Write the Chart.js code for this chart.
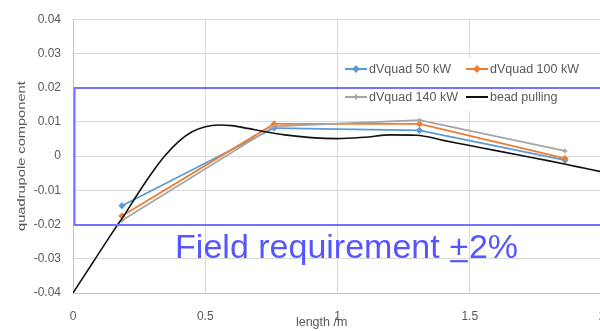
<!DOCTYPE html>
<html>
<head>
<meta charset="utf-8">
<script src="https://cdn.jsdelivr.net/npm/chart.js@4/dist/chart.umd.min.js"></script>
<style>
  html, body { margin: 0; padding: 0; background: #fff; overflow: hidden; width: 600px; height: 331px; }
  #wrap { position: absolute; left: 0; top: 0; width: 606px; height: 331px; }
</style>
</head>
<body>
<div id="wrap"><canvas id="c" width="606" height="331"></canvas></div>
<script>
// Longitudinal positions of the simulated quadrupole samples (m)
const positions = [0.185, 0.76, 1.31, 1.86];
// Simulated quadrupole component at three RF power levels
const dv50  = [-0.0145, 0.0082, 0.0075, -0.0012];
const dv100 = [-0.0175, 0.0094, 0.0094, -0.0007];
const dv140 = [-0.0188, 0.0087, 0.0105, 0.0015];
// Bead-pulling measurement
const beadX = [0, 0.08, 0.15, 0.2, 0.25, 0.3, 0.35, 0.4, 0.45, 0.5, 0.55, 0.6, 0.66, 0.72, 0.8, 0.9, 1.0, 1.1, 1.2, 1.3, 1.4, 1.5, 1.6, 1.7, 1.8, 1.9, 2.0];
const beadY = [-0.04, -0.0305, -0.0222, -0.0165, -0.0104, -0.0047, 0.0003, 0.0043, 0.0071, 0.0086, 0.0091, 0.0089, 0.0081, 0.0072, 0.0062, 0.0054, 0.0051, 0.0055, 0.0062, 0.0061, 0.0046, 0.0031, 0.0016, 0.0001, -0.0014, -0.0030, -0.0046];
// Tolerance band: +/-2 %
const requirementBand = [-0.02, 0.02];
const seriesNames = ['dVquad 50 kW', 'dVquad 100 kW', 'dVquad 140 kW', 'bead pulling'];
const xTicks = [0, 0.5, 1, 1.5, 2];
const yTicks = [-0.04, -0.03, -0.02, -0.01, 0, 0.01, 0.02, 0.03, 0.04];

const pts = (xs, ys) => xs.map((x, i) => ({ x: x, y: ys[i] }));
const TXT = '#595959';
const FONT = '"Liberation Sans", Arial, sans-serif';

function series(label, data, color, style, order) {
  return {
    label: label, data: data, borderColor: color, backgroundColor: color,
    borderWidth: 1.8, tension: 0, pointStyle: style, pointRadius: 2.5,
    pointBorderWidth: 1.5, pointHoverRadius: 2.5, order: order, _legendStyle: style
  };
}

const datasets = [
  series(seriesNames[0], pts(positions, dv50), '#5B9BD5', 'rectRot', 4),
  series(seriesNames[1], pts(positions, dv100), '#ED7D31', 'rectRot', 3),
  series(seriesNames[2], pts(positions, dv140), '#A5A5A5', 'cross', 2),
  {
    label: seriesNames[3], data: pts(beadX, beadY), borderColor: '#111111',
    borderWidth: 1.6, pointRadius: 0, cubicInterpolationMode: 'monotone', order: 1,
    _legendStyle: false
  }
];

// Legend box drawn inside the plot area, two items per row
const insideLegend = {
  id: 'insideLegend',
  afterDatasetsDraw(chart) {
    const ctx = chart.ctx;
    const x = chart.scales.x, y = chart.scales.y;
    const boxL = x.getPixelForValue(1.01), boxR = x.getPixelForValue(1.98);
    const boxT = y.getPixelForValue(0.0287), boxB = y.getPixelForValue(0.0132);
    ctx.save();
    ctx.fillStyle = '#ffffff';
    ctx.fillRect(boxL, boxT, boxR - boxL, boxB - boxT);
    ctx.font = '12.5px ' + FONT;
    ctx.textBaseline = 'middle';
    const cols = [345, 466];
    const rows = [69, 97];
    chart.data.datasets.forEach((ds, i) => {
      const lx = cols[i % 2], ly = rows[Math.floor(i / 2)];
      ctx.strokeStyle = ds.borderColor;
      ctx.lineWidth = 2;
      ctx.beginPath(); ctx.moveTo(lx, ly); ctx.lineTo(lx + 22, ly); ctx.stroke();
      if (ds._legendStyle) {
        ctx.fillStyle = ds.borderColor;
        Chart.helpers.drawPoint(ctx, {
          pointStyle: ds._legendStyle, radius: 2.5, borderWidth: 1.5, rotation: 0
        }, lx + 11, ly);
      }
      ctx.fillStyle = TXT;
      ctx.fillText(ds.label, lx + 24, ly + 0.5);
    });
    ctx.restore();
  }
};

// Tolerance rectangle with its caption, plus axis titles
const annotations = {
  id: 'annotations',
  afterDraw(chart) {
    const ctx = chart.ctx;
    const x = chart.scales.x, y = chart.scales.y;
    const left = x.getPixelForValue(0) + 1.5;
    const top = Math.round(y.getPixelForValue(requirementBand[1]));
    const bottom = Math.round(y.getPixelForValue(requirementBand[0]));
    ctx.save();
    ctx.strokeStyle = '#7272ff';
    ctx.lineWidth = 2;
    ctx.beginPath();
    ctx.moveTo(chart.width + 5, top);
    ctx.lineTo(left, top);
    ctx.lineTo(left, bottom);
    ctx.lineTo(chart.width + 5, bottom);
    ctx.stroke();

    // caption: "Field requirement +2%" with the plus sign underlined (±)
    ctx.font = '34px ' + FONT;
    ctx.fillStyle = '#5656ff';
    ctx.textBaseline = 'alphabetic';
    const tx = x.getPixelForValue(0.386), ty = y.getPixelForValue(-0.0298);
    const part1 = 'Field requirement ';
    ctx.fillText(part1 + '+2%', tx, ty);
    const w1 = ctx.measureText(part1).width;
    const wp = ctx.measureText('+').width;
    ctx.fillRect(tx + w1 + 1, ty + 2, wp - 2, 2.2);

    // y axis title (set in a stretched face)
    ctx.fillStyle = TXT;
    ctx.font = '11px ' + FONT;
    ctx.textAlign = 'center';
    ctx.textBaseline = 'middle';
    ctx.save();
    ctx.translate(22, (chart.chartArea.top + chart.chartArea.bottom) / 2);
    ctx.rotate(-Math.PI / 2);
    ctx.scale(1.33, 1);
    ctx.fillText('quadrupole component', 0, 0);
    ctx.restore();

    // x axis title
    ctx.font = '12.5px ' + FONT;
    ctx.fillText('length /m', x.getPixelForValue(0.94), 323);
    ctx.restore();
  }
};

new Chart(document.getElementById('c'), {
  type: 'line',
  data: { datasets: datasets },
  options: {
    responsive: false,
    animation: false,
    events: [],
    layout: { padding: { top: 17, bottom: 0, left: 0, right: 0 } },
    plugins: { legend: { display: false }, tooltip: { enabled: false } },
    scales: {
      x: {
        type: 'linear', min: xTicks[0], max: xTicks[xTicks.length - 1],
        afterBuildTicks: (s) => { s.ticks = xTicks.map(v => ({ value: v })); },
        afterFit: (s) => { s.height = 38; s.paddingRight = 4; s.paddingLeft = 0; },
        grid: { color: '#d9d9d9', lineWidth: 1, drawTicks: false },
        border: { color: '#c4c4c4', width: 1 },
        ticks: {
          padding: 16, color: TXT, font: { family: FONT, size: 12 },
          maxRotation: 0, autoSkip: false,
          callback: (v) => String(v)
        }
      },
      y: {
        type: 'linear', min: yTicks[0], max: yTicks[yTicks.length - 1],
        afterBuildTicks: (s) => { s.ticks = yTicks.map(v => ({ value: v })); },
        afterFit: (s) => { s.width = 73; },
        grid: { color: '#d9d9d9', lineWidth: 1, drawTicks: false },
        border: { color: '#c4c4c4', width: 1 },
        ticks: {
          padding: 12, color: TXT, font: { family: FONT, size: 12 },
          autoSkip: false,
          callback: (v) => (Math.abs(v) < 1e-9 ? '0' : v.toFixed(2))
        }
      }
    }
  },
  plugins: [insideLegend, annotations]
});
</script>
</body>
</html>
